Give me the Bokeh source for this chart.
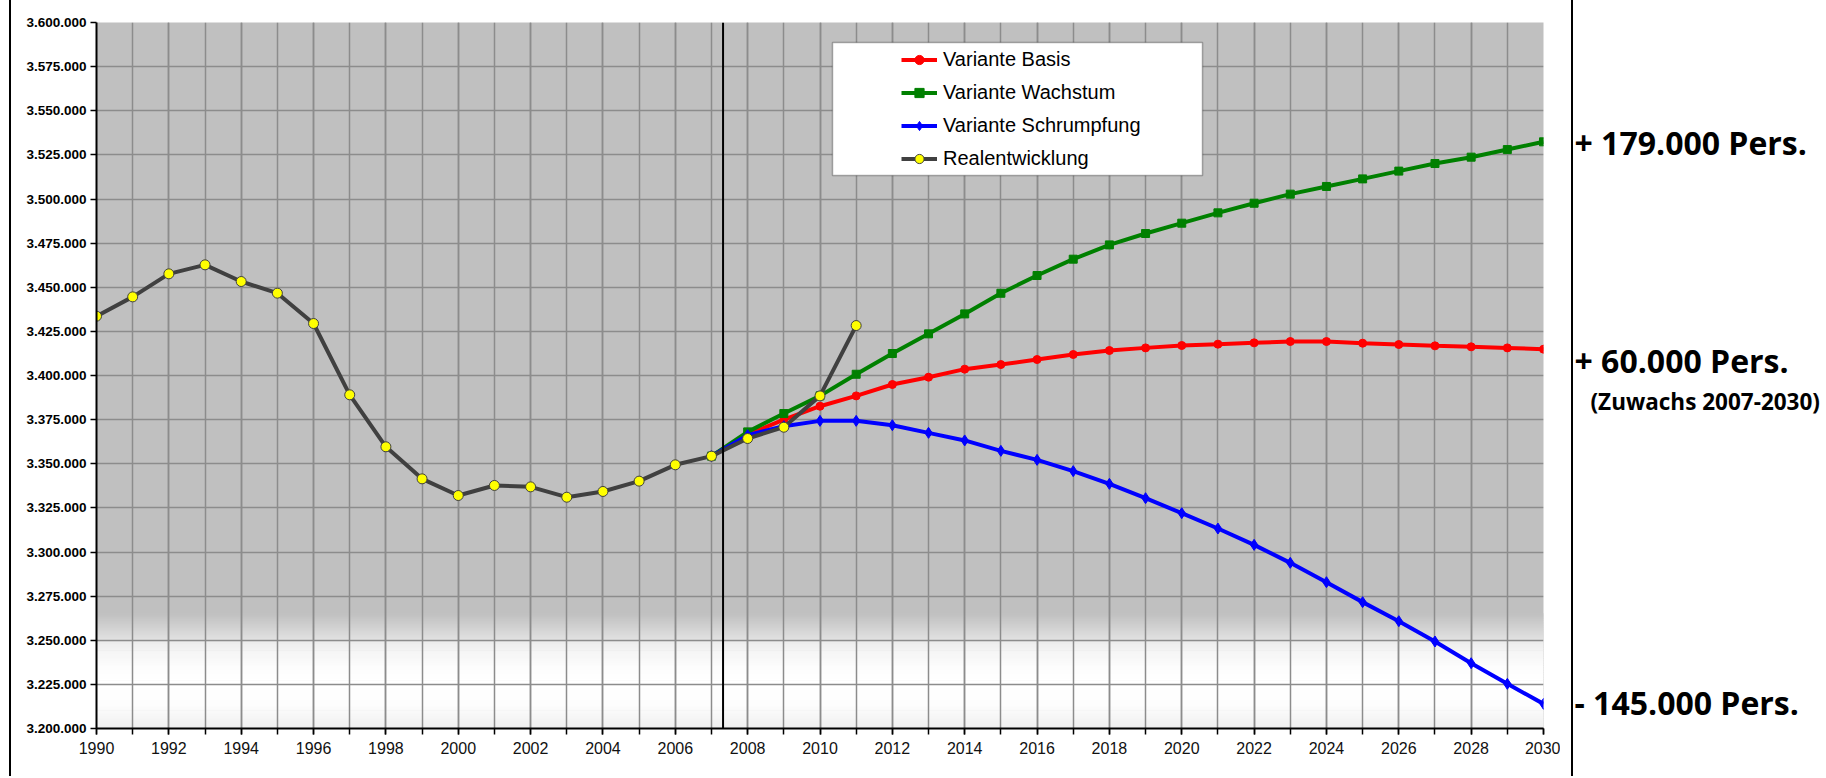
from bokeh.plotting import figure
from bokeh.layouts import row
from bokeh.models import (Legend, LegendItem, BoxAnnotation, Span, Label, SingleIntervalTicker,
                          CustomJSTickFormatter, Range1d, Div)
from bokeh.embed import file_html
from bokeh.resources import INLINE

# ---------------- data ----------------
years_real = list(range(1990, 2012))
real = [3433600, 3444550, 3457600, 3462700, 3453250, 3446650, 3429450, 3389050, 3359600,
        3341450, 3332000, 3337700, 3336900, 3331050, 3334300, 3340150, 3349400, 3354300,
        3364300, 3370700, 3388450, 3428300]

years_proj = list(range(2007, 2031))
basis = [3354300, 3366500, 3375050, 3382600, 3388450, 3394900, 3399050, 3403600, 3406200,
         3409050, 3411900, 3414150, 3415650, 3417000, 3417750, 3418500, 3419250, 3419250,
         3418300, 3417550, 3416800, 3416250, 3415650, 3414900]
wachstum = [3354300, 3368050, 3378450, 3388450, 3400700, 3412450, 3423600, 3434900, 3446600,
            3456650, 3465900, 3474000, 3480450, 3486300, 3492150, 3497600, 3502750, 3507100,
            3511400, 3515800, 3520100, 3523700, 3528000, 3532400]
schrumpfung = [3354300, 3366200, 3371300, 3374300, 3374300, 3371850, 3367500, 3363200, 3357300,
               3352200, 3345800, 3338600, 3330500, 3322000, 3313300, 3304050, 3293850, 3282900,
               3271600, 3260800, 3249300, 3237000, 3225300, 3213950]

series_labels = ["Variante Basis", "Variante Wachstum", "Variante Schrumpfung", "Realentwicklung"]
side_texts = ["+ 179.000 Pers.", "+ 60.000 Pers.", "(Zuwachs 2007-2030)", "- 145.000 Pers."]

x_start, x_end = 1990, 2030
y_start, y_end = 3200000, 3600000
cut_year = 2007.32

H = 776

# ---------------- left border line ----------------
left_line = Div(width=11, height=H, margin=0,
                styles={"border-right": "2px solid black", "box-sizing": "border-box"})

# ---------------- main chart ----------------
p = figure(width=1549, height=H,
           x_range=Range1d(x_start, x_end), y_range=Range1d(y_start, y_end),
           output_backend="svg", toolbar_location=None,
           min_border_left=85, min_border_right=17, min_border_top=22, min_border_bottom=48,
           background_fill_color="#C0C0C0", border_fill_color="white")
p.outline_line_color = None

# background fade (gray -> white towards the bottom)
fade_stops = [(3265000, 0.0), (3251000, 0.5), (3249000, 0.7), (3244000, 0.83),
              (3235000, 0.96), (3226000, 1.0), (3214000, 0.97), (3200000, 0.75)]
def fade_alpha(v):
    for (v0, a0), (v1, a1) in zip(fade_stops[:-1], fade_stops[1:]):
        if v1 <= v <= v0:
            return a0 + (a1 - a0) * (v0 - v) / (v0 - v1)
    return 0.0
step = 1000
v = 3200000
while v < 3265000:
    a = fade_alpha(v + step / 2)
    c = int(round(192 + a * 63))
    col = "#%02x%02x%02x" % (c, c, c)
    p.add_layout(BoxAnnotation(bottom=v, top=v + step + 400, fill_color=col, fill_alpha=1,
                               line_alpha=0, level="image"))
    v += step

# axes
p.xaxis.ticker = SingleIntervalTicker(interval=2, num_minor_ticks=2)
p.yaxis.ticker = SingleIntervalTicker(interval=25000, num_minor_ticks=0)
p.yaxis.formatter = CustomJSTickFormatter(
    code="return Math.round(tick).toString().replace(/\\B(?=(\\d{3})+(?!\\d))/g, '.');")
for ax in (p.xaxis[0], p.yaxis[0]):
    ax.axis_line_color = "black"
    ax.axis_line_width = 2
    ax.major_tick_line_color = "black"
    ax.major_tick_line_width = 1.5
    ax.major_tick_in = 0
    ax.major_tick_out = 6
    ax.minor_tick_line_color = "black"
    ax.minor_tick_line_width = 1.5
    ax.minor_tick_in = 0
    ax.minor_tick_out = 6
p.xaxis.major_label_text_font = "Liberation Sans"
p.xaxis.major_label_text_font_size = "16px"
p.xaxis.major_label_text_color = "#111111"
p.xaxis.major_label_standoff = 7
p.yaxis.major_label_text_font = "Liberation Sans"
p.yaxis.major_label_text_font_size = "13.5px"
p.yaxis.major_label_text_font_style = "bold"
p.yaxis.major_label_text_color = "black"
p.yaxis.major_label_standoff = 4

for g in (p.xgrid[0], p.ygrid[0]):
    g.grid_line_color = "#8C8C8C"
    g.grid_line_width = 1.5
p.xgrid.minor_grid_line_color = "#8C8C8C"
p.xgrid.minor_grid_line_width = 1.5

# ---------------- series ----------------
lb = p.line(years_proj, basis, line_color="#FF0000", line_width=4)
mb = p.scatter(years_proj, basis, marker="circle", size=8, color="#FF0000")
lw = p.line(years_proj, wachstum, line_color="#008000", line_width=4)
mw = p.scatter(years_proj, wachstum, marker="square", size=8, color="#008000")
ls = p.line(years_proj, schrumpfung, line_color="#0000FF", line_width=4)
ms = p.scatter(years_proj, schrumpfung, marker="diamond", size=11, color="#0000FF")
lr = p.line(years_real, real, line_color="#404040", line_width=4)
mr = p.scatter(years_real, real, marker="circle", size=10, fill_color="#FFFF00",
               line_color="#404040", line_width=1)

p.add_layout(Span(location=cut_year, dimension="height", line_color="black", line_width=2))

# legend box + legend
p.add_layout(BoxAnnotation(left=736, right=1106, top=686, bottom=553,
                           left_units="screen", right_units="screen",
                           top_units="screen", bottom_units="screen",
                           fill_color="white", fill_alpha=1, line_color="black", line_width=1.5))
items = [LegendItem(label=series_labels[0], renderers=[lb, mb]),
         LegendItem(label=series_labels[1], renderers=[lw, mw]),
         LegendItem(label=series_labels[2], renderers=[ls, ms]),
         LegendItem(label=series_labels[3], renderers=[lr, mr])]
legend = Legend(items=items, location=(805, 558), padding=0, margin=0, spacing=10,
                glyph_width=36, glyph_height=23, label_height=23, label_standoff=6,
                label_text_font="Liberation Sans", label_text_font_size="20px",
                label_text_color="black",
                background_fill_alpha=0, border_line_alpha=0)
p.add_layout(legend, "center")

# ---------------- right separator line ----------------
mid_line = Div(width=13, height=H, margin=0,
               styles={"border-right": "2px solid black", "box-sizing": "border-box"})

# ---------------- right annotation strip ----------------
p2 = figure(width=251, height=H, output_backend="svg", toolbar_location=None,
            y_range=p.y_range, x_range=Range1d(0, 1),
            min_border=0, x_axis_type=None, y_axis_type=None,
            background_fill_color="white", border_fill_color="white")
p2.outline_line_color = None
p2.grid.visible = False
side_pos = [(1, 3532000, "32px"), (1, 3408500, "32px"), (17, 3385300, "22.5px"),
            (1, 3214700, "32px")]
for txt, (sx, sy, fs) in zip(side_texts, side_pos):
    p2.add_layout(Label(x=sx, y=sy, x_units="screen", y_units="data", text=txt,
                        text_font="Open Sans", text_font_style="bold", text_font_size=fs,
                        text_baseline="middle", text_color="black"))

layout = row(left_line, p, mid_line, p2, spacing=0)
open("out.html", "w").write(file_html(layout, INLINE))
